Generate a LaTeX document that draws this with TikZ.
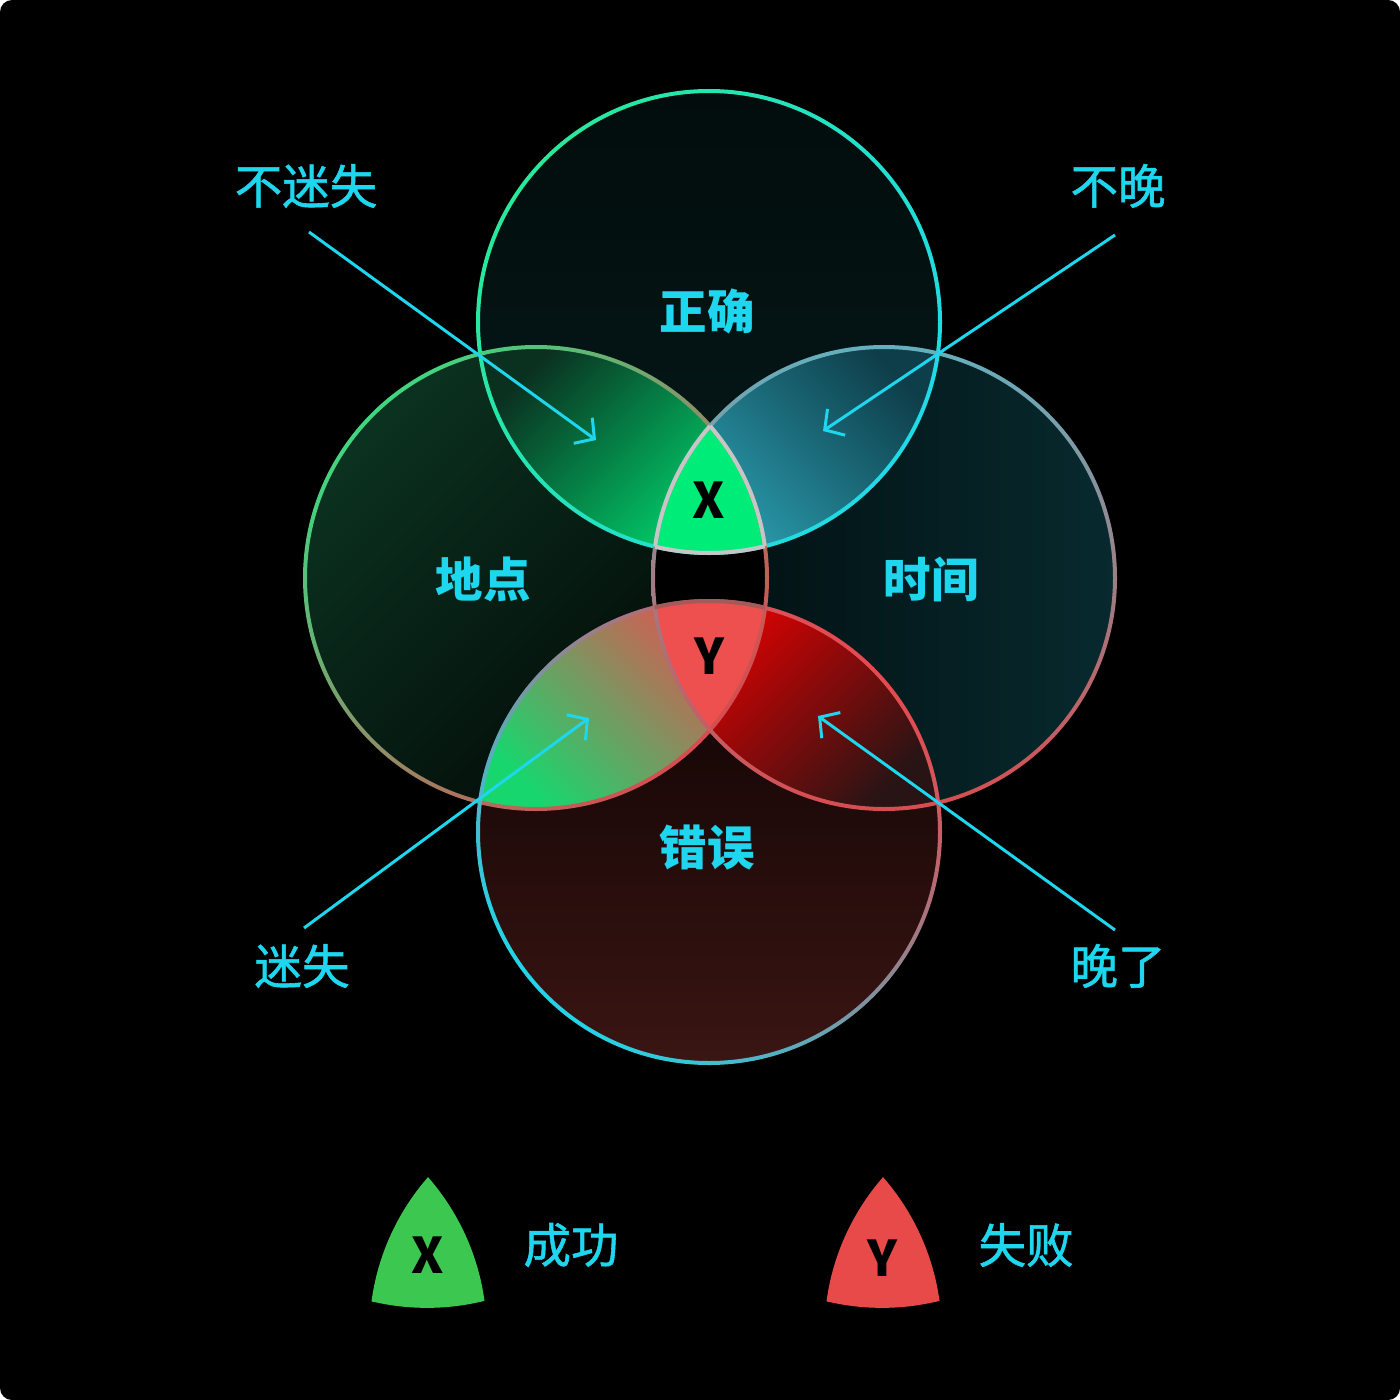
\documentclass[tikz,border=0pt]{standalone}
\usepackage{fontspec}
\newfontfamily\cjk{Noto Sans CJK SC}
\newfontfamily\cjkmed{Noto Sans CJK SC}[FakeBold=1.2]
\usetikzlibrary{arrows.meta}

\definecolor{labelcyan}{HTML}{1ED6EE}
\definecolor{xgreen}{HTML}{00EC78}
\definecolor{yred}{HTML}{EE5050}
\definecolor{legendgreen}{HTML}{3CC850}
\definecolor{legendred}{HTML}{E84A4A}
\newcommand\circrad{231}

\begin{document}
\begin{tikzpicture}[x=0.01cm, y=-0.01cm,
  lbl/.style={text=labelcyan, font=\cjkmed\fontsize{13.5}{16}\selectfont},
  setlbl/.style={text=labelcyan, font=\cjk\bfseries\fontsize{13.5}{16}\selectfont},
  letter/.style={text=black, font=\cjk\bfseries\fontsize{14}{16}\selectfont},
  pointer/.style={draw=labelcyan, line width=0.85pt,
    -{Straight Barb[length=4pt, width=9pt, line width=0.85pt]}}]
  \useasboundingbox (0,0) rectangle (1400,1400);
  % Background
  \fill[white] (0,0) rectangle (1400,1400);
  \fill[black, rounded corners=1.2mm] (0,0) rectangle (1400,1400);
  % Circle centres
  \coordinate (cT) at (709,322);
  \coordinate (cL) at (536,578);
  \coordinate (cR) at (884,578);
  \coordinate (cB) at (709,832);
  % Circle fills
  \shade[top color={rgb,255:red,2;green,12;blue,12}, bottom color={rgb,255:red,6;green,26;blue,26}] (cT) circle (\circrad);
  \shade[top color={rgb,255:red,11;green,50;blue,32}, bottom color={rgb,255:red,2;green,8;blue,6}, shading angle=45] (cL) circle (\circrad);
  \shade[left color={rgb,255:red,2;green,12;blue,14}, right color={rgb,255:red,7;green,42;blue,46}] (cR) circle (\circrad);
  \shade[top color={rgb,255:red,10;green,2;blue,2}, bottom color={rgb,255:red,58;green,21;blue,19}] (cB) circle (\circrad);
  % Lenses
  \begin{scope}
    \clip (cT) circle (\circrad);
    \clip (cL) circle (\circrad);
    \shade[top color={rgb,255:red,10;green,48;blue,32}, bottom color={rgb,255:red,0;green,220;blue,112}, shading angle=45] (478,346) rectangle (768,555);
  \end{scope}
  \begin{scope}
    \clip (cT) circle (\circrad);
    \clip (cR) circle (\circrad);
    \shade[top color={rgb,255:red,14;green,62;blue,74}, bottom color={rgb,255:red,44;green,164;blue,182}, shading angle=-45] (652,346) rectangle (940,555);
  \end{scope}
  \begin{scope}
    \clip (cB) circle (\circrad);
    \clip (cL) circle (\circrad);
    \shade[top color={rgb,255:red,232;green,80;blue,80}, bottom color={rgb,255:red,24;green,214;blue,110}, shading angle=-45] (478,600) rectangle (768,810);
  \end{scope}
  \begin{scope}
    \clip (cB) circle (\circrad);
    \clip (cR) circle (\circrad);
    \shade[top color={rgb,255:red,236;green,0;blue,0}, bottom color={rgb,255:red,40;green,20;blue,20}, shading angle=45] (652,600) rectangle (940,810);
  \end{scope}
  % Middle lens
  \begin{scope}
    \clip (cL) circle (\circrad);
    \fill[black] (cR) circle (\circrad);
  \end{scope}
  % X and Y regions
  \begin{scope}
    \clip (cT) circle (\circrad);
    \clip (cL) circle (\circrad);
    \fill[xgreen] (cR) circle (\circrad);
  \end{scope}
  \begin{scope}
    \clip (cB) circle (\circrad);
    \clip (cL) circle (\circrad);
    \fill[yred] (cR) circle (\circrad);
  \end{scope}
  % Circle outlines
  \shade[even odd rule, top color={rgb,255:red,40;green,232;blue,156}, bottom color={rgb,255:red,32;green,218;blue,232}, shading angle=60] (cT) circle (233) (cT) circle (229);
  \shade[even odd rule, top color={rgb,255:red,64;green,214;blue,128}, middle color={rgb,255:red,118;green,150;blue,120}, bottom color={rgb,255:red,214;green,76;blue,80}, shading angle=45] (cL) circle (233) (cL) circle (229);
  \shade[even odd rule, top color={rgb,255:red,100;green,176;blue,190}, middle color={rgb,255:red,160;green,150;blue,160}, bottom color={rgb,255:red,216;green,76;blue,80}] (cR) circle (233) (cR) circle (229);
  \shade[even odd rule, top color={rgb,255:red,228;green,74;blue,80}, bottom color={rgb,255:red,34;green,212;blue,232}, shading angle=-45] (cB) circle (233) (cB) circle (229);
  % Region outlines
  \begin{scope}
    \clip (cT) circle (\circrad);
    \clip (cL) circle (\circrad);
    \draw[gray!45, line width=0.04cm] (cR) circle (\circrad);
  \end{scope}
  \begin{scope}
    \clip (cT) circle (\circrad);
    \clip (cR) circle (\circrad);
    \draw[gray!45, line width=0.04cm] (cL) circle (\circrad);
  \end{scope}
  \begin{scope}
    \clip (cL) circle (\circrad);
    \clip (cR) circle (\circrad);
    \draw[gray!45, line width=0.04cm] (cT) circle (\circrad);
    \draw[red!30!gray, line width=0.04cm] (cB) circle (\circrad);
  \end{scope}
  % Pointers
  \coordinate (p1s) at (309,232);
  \coordinate (p1e) at (596,440);
  \coordinate (p2s) at (1115,235);
  \coordinate (p2e) at (823,431);
  \coordinate (p3s) at (304,928);
  \coordinate (p3e) at (589,718);
  \coordinate (p4s) at (1115,930);
  \coordinate (p4e) at (818,716);
  \draw[pointer] (p1s) -- (p1e);
  \draw[pointer] (p2s) -- (p2e);
  \draw[pointer] (p3s) -- (p3e);
  \draw[pointer] (p4s) -- (p4e);
  % Labels
  \node[lbl] (notlost) at (306,186) {不迷失};
  \node[lbl] (notlate) at (1118,186) {不晚};
  \node[lbl] (lost) at (302,966) {迷失};
  \node[lbl] (late) at (1118,966) {晚了};
  \node[setlbl] (right) at (707,311) {正确};
  \node[setlbl] (place) at (483,579) {地点};
  \node[setlbl] (time) at (931,579) {时间};
  \node[setlbl] (wrong) at (707,848) {错误};
  \node[letter] (xmark) at (709,500) {X};
  \node[letter] (ymark) at (709,656) {Y};
  % Legend
  \begin{scope}[shift={(427,1176)}, scale=1.03]
    \clip (0,-103) circle (\circrad);
    \clip (-173,153) circle (\circrad);
    \fill[legendgreen] (175,153) circle (\circrad);
  \end{scope}
  \begin{scope}[shift={(882,1176)}, scale=1.03]
    \clip (0,-103) circle (\circrad);
    \clip (-173,153) circle (\circrad);
    \fill[legendred] (175,153) circle (\circrad);
  \end{scope}
  \node[letter] (xkey) at (428,1255) {X};
  \node[letter] (ykey) at (882,1258) {Y};
  \node[lbl] (success) at (571,1245) {成功};
  \node[lbl] (failure) at (1026,1245) {失败};
\end{tikzpicture}
\end{document}
